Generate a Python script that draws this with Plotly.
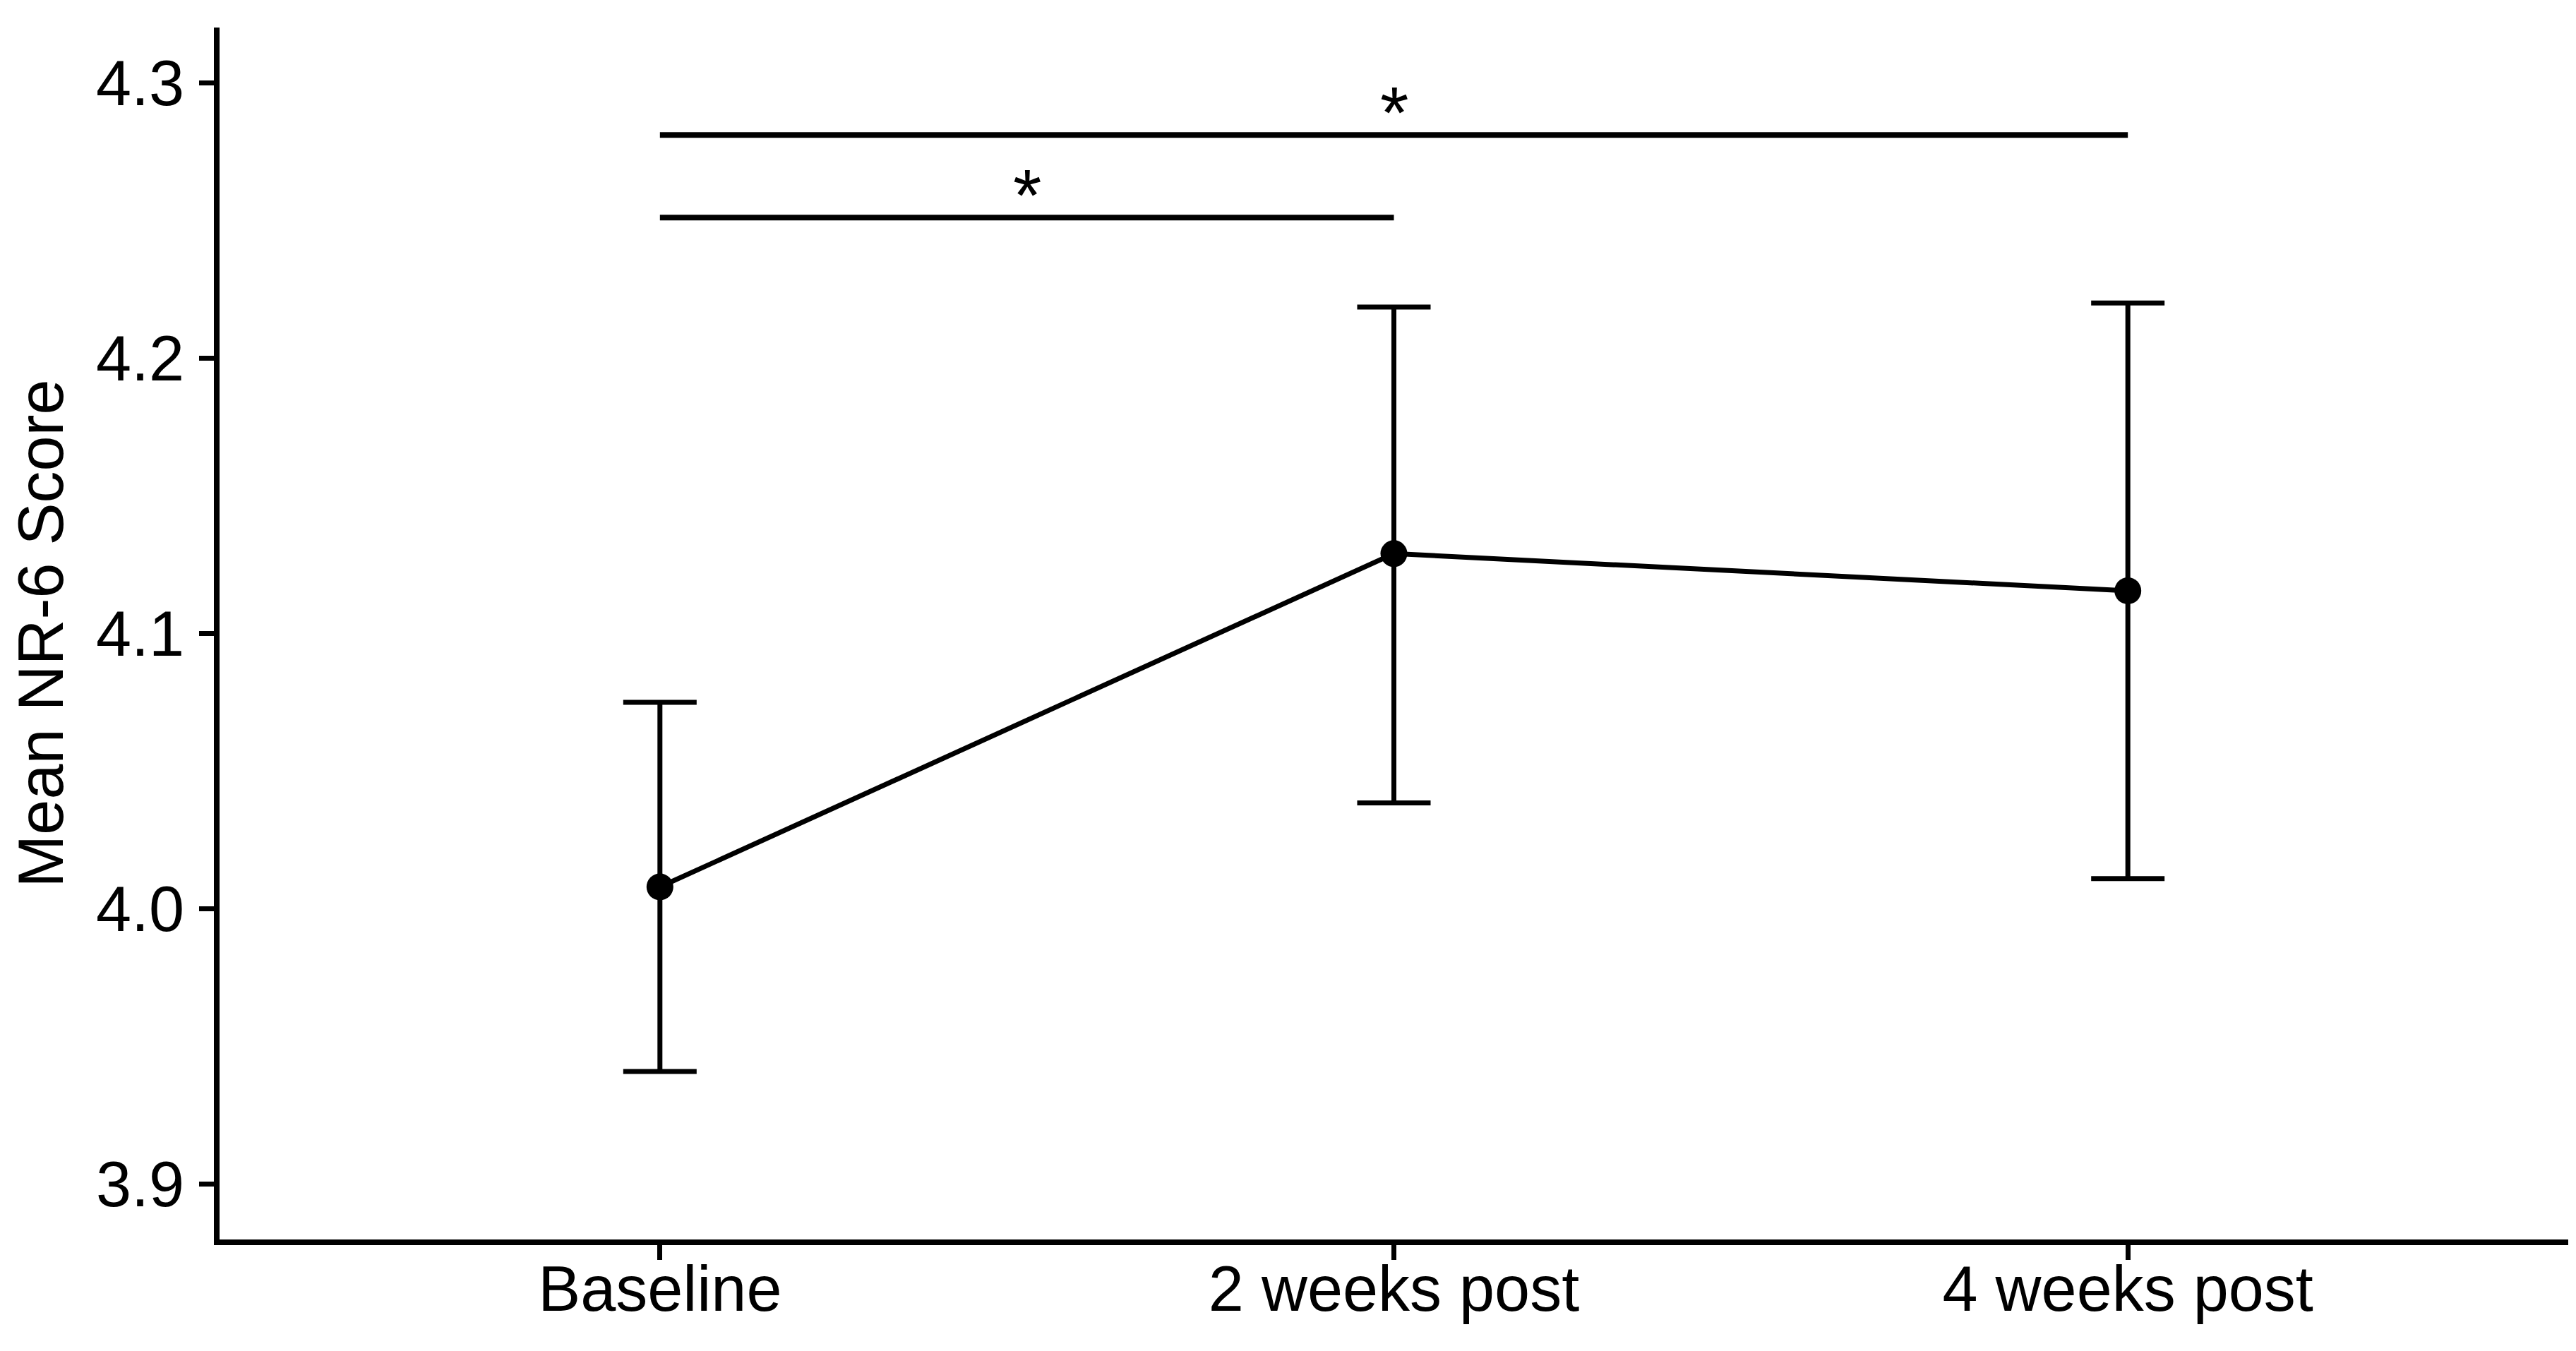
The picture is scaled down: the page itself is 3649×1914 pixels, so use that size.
import plotly.graph_objects as go

# values
timepoints = ["Baseline", "2 weeks post", "4 weeks post"]
mean_score = [4.008, 4.129, 4.1155]
ci_upper = [4.075, 4.2185, 4.220]
ci_lower = [3.941, 4.0385, 4.011]

# significance brackets: (from, to, height, label)
sig_from = ["Baseline", "Baseline"]
sig_to = ["2 weeks post", "4 weeks post"]
sig_height = [4.251, 4.281]
sig_label = ["*", "*"]

font_family = "Liberation Sans, Arial, sans-serif"

err_plus = [u - m for u, m in zip(ci_upper, mean_score)]
err_minus = [m - l for m, l in zip(mean_score, ci_lower)]

fig = go.Figure()

fig.add_trace(go.Scatter(
    x=timepoints, y=mean_score,
    mode="lines+markers",
    line=dict(color="black", width=7),
    marker=dict(color="black", size=38),
    error_y=dict(type="data", symmetric=False, array=err_plus, arrayminus=err_minus,
                 color="black", thickness=7, width=52),
    showlegend=False,
))

cat_index = {c: i for i, c in enumerate(timepoints)}
for a, b, h, lab in zip(sig_from, sig_to, sig_height, sig_label):
    fig.add_trace(go.Scatter(
        x=[a, b], y=[h, h], mode="lines",
        line=dict(color="black", width=8),
        showlegend=False, hoverinfo="skip",
    ))
    mid = (cat_index[a] + cat_index[b]) / 2
    fig.add_annotation(
        x=mid, y=h, text=lab, showarrow=False,
        yanchor="bottom", yshift=-29,
        font=dict(family=font_family, size=104, color="black"),
    )

axis_common = dict(
    showline=True, linecolor="black", linewidth=8,
    ticks="outside", ticklen=21, tickwidth=7, tickcolor="black",
    showgrid=False, zeroline=False,
    tickfont=dict(family=font_family, size=90, color="black"),
)

fig.update_xaxes(
    type="category", range=[-0.6, 2.6], ticklabelstandoff=-36, **axis_common,
)
fig.update_yaxes(
    range=[3.88, 4.32], tickvals=[3.9, 4.0, 4.1, 4.2, 4.3],
    ticktext=["3.9", "4.0", "4.1", "4.2", "4.3"],
    ticklabelstandoff=3,
    title=dict(text="Mean NR-6 Score", standoff=40,
               font=dict(family=font_family, size=90, color="black")),
    **axis_common,
)

fig.update_layout(
    width=3649, height=1914,
    margin=dict(l=303, r=19, t=31, b=166),
    plot_bgcolor="white", paper_bgcolor="white",
)

fig.write_html("out.html")
